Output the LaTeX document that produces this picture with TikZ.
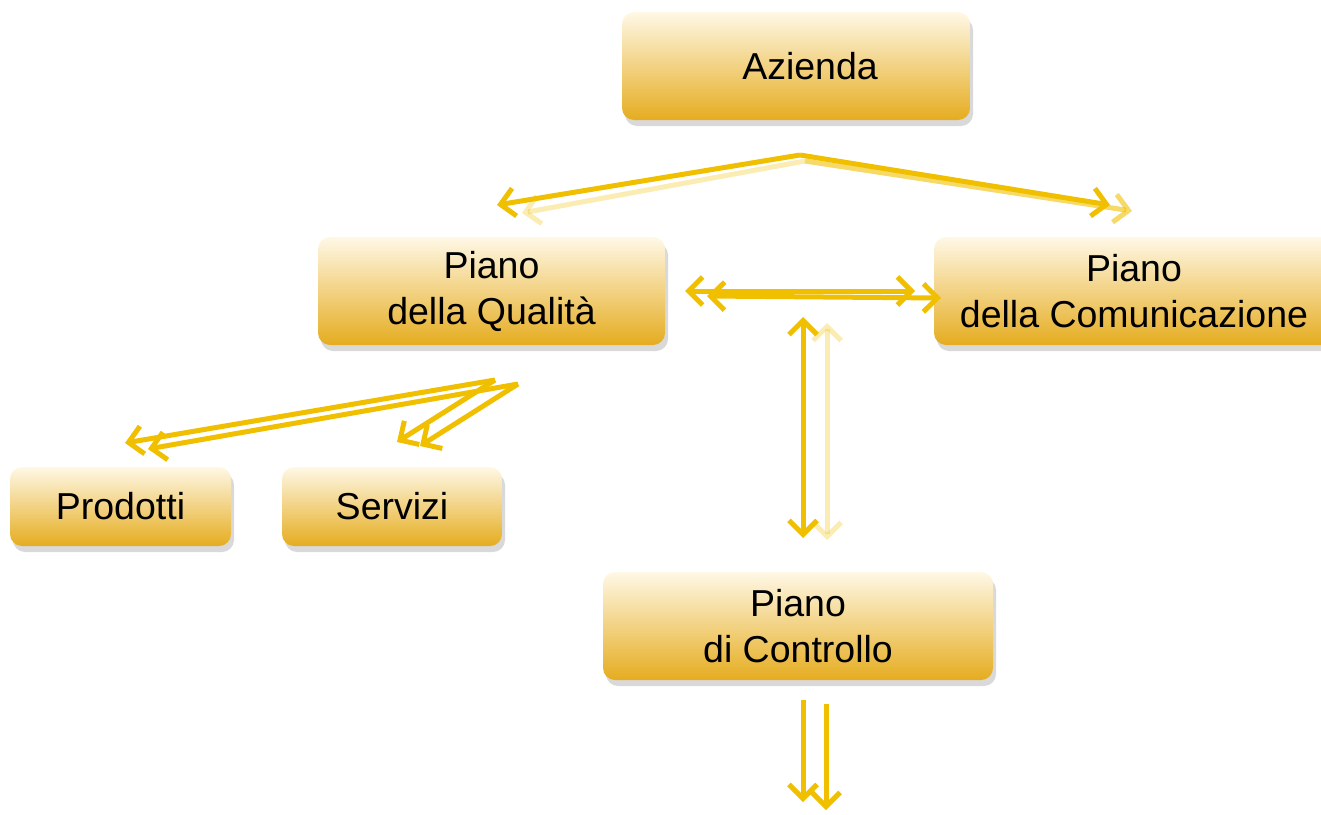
\documentclass[tikz,border=0pt]{standalone}
\usepackage{fontspec}
\setmainfont{Liberation Sans}
\usepackage{tikz}
\usetikzlibrary{positioning,arrows.meta,shadows}
\definecolor{gold}{HTML}{F0C000}
\definecolor{boxtop}{HTML}{FFF8E6}
\definecolor{boxbot}{HTML}{E5AC1F}

\begin{document}
\begin{tikzpicture}[
                x=1pt,y=-1pt,
                box/.style={rectangle,rounded corners=12pt,top color=boxtop,bottom color=boxbot,
                    align=center,font=\fontsize{37.5}{46}\selectfont,
                    drop shadow={opacity=0.3,shadow xshift=3pt,shadow yshift=-6pt}},
                big/.style={box,minimum height=108},
                small/.style={box,minimum height=79},
                link/.style={draw=gold,line width=5pt,-{Straight Barb[length=14pt,width=28pt]}},
                both/.style={link,{Straight Barb[length=14pt,width=28pt]}-{Straight Barb[length=14pt,width=28pt]}},
                pale/.style={opacity=0.3}
            ]
                \clip (0,0) rectangle (1321,814);
                \node[big,minimum width=348] (az) at (796,66) {\hspace*{28pt}Azienda};
                \node[big,minimum width=347] (pq) at (491.5,291) {Piano\\della Qualità};
                \node[big,minimum width=400] (pc) at (1134,291) {Piano\\della Comunicazione};
                \node[small,minimum width=221] (pr) at (120.5,506.5) {Prodotti};
                \node[small,minimum width=220] (se) at (392,506.5) {Servizi};
                \node[big,minimum width=390] (ct) at (798,626) {Piano\\di Controllo};
                % free ends of the arrows
                \coordinate (a1) at (800,155);
                \coordinate (a2) at (805,161);
                \coordinate (q1) at (497,205);
                \coordinate (q2) at (522,213);
                \coordinate (c1) at (1110,205);
                \coordinate (c2) at (1132,211);
                \coordinate (f1) at (495,380);
                \coordinate (f2) at (518,384);
                \coordinate (p1) at (125,443);
                \coordinate (p2) at (148,449);
                \coordinate (s1) at (397,442);
                \coordinate (s2) at (420,446);
                \coordinate (h1) at (685,291);
                \coordinate (h2) at (915,291);
                \coordinate (h3) at (707,296);
                \coordinate (h4) at (941,298);
                \coordinate (v1) at (803,317);
                \coordinate (v2) at (803,538);
                \coordinate (v3) at (827,323);
                \coordinate (v4) at (827,540);
                \coordinate (d1) at (803,700);
                \coordinate (d2) at (803,802);
                \coordinate (d3) at (826,704);
                \coordinate (d4) at (826,810);
                % Azienda
                \draw[link] (a1) -- (q1);
                \draw[link,pale] (a2) -- (q2);
                \draw[link] (a1) -- (c1);
                \draw[link,opacity=0.6] (a2) -- (c2);
                % Qualita
                \foreach \f/\p/\s in {f1/p1/s1,f2/p2/s2}
                    {
                    \draw[link] (\f) -- (\p);
                    \draw[link] (\f) -- (\s);
                }
                \draw[both] (h1) -- (h2);
                \draw[both] (h3) -- (h4);
                \draw[both] (v1) -- (v2);
                \draw[both,pale] (v3) -- (v4);
                % Controllo
                \draw[link] (d1) -- (d2);
                \draw[link] (d3) -- (d4);
            \end{tikzpicture}
\end{document}
